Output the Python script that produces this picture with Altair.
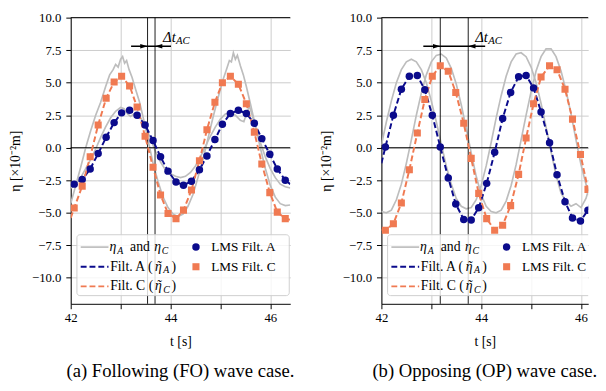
import altair as alt
import pandas as pd

FONT = "Liberation Serif"
NAVY = "#0B0B8C"
CORAL = "#F07A52"
GRAY = "#BDBDBD"

T_TICKS = [42, 43, 44, 45, 46]
ETA_TICKS = [-10, -7.5, -5, -2.5, 0, 2.5, 5, 7.5, 10]

# ---------------- (a) Following (FO) ----------------
fo_lms_t = [42.07, 42.23, 42.39, 42.55, 42.71, 42.87, 43.02, 43.18, 43.33, 43.49,
            43.65, 43.80, 43.95, 44.11, 44.26, 44.42, 44.58, 44.73, 44.89, 45.04,
            45.20, 45.36, 45.52, 45.68, 45.83, 45.99, 46.14, 46.30]
fo_lms_a = [-2.80, -2.45, -1.63, -0.45, 0.80, 1.93, 2.68, 2.88, 2.50, 1.75,
            0.55, -0.70, -1.80, -2.63, -2.88, -2.58, -1.70, -0.63, 0.63, 1.80,
            2.63, 2.88, 2.63, 1.88, 0.70, -0.50, -1.63, -2.50]
fo_lms_c = [-4.63, -2.95, -0.70, 1.75, 3.80, 5.05, 5.50, 4.75, 3.13, 0.88,
            -1.50, -3.63, -5.05, -5.45, -4.80, -3.25, -1.00, 1.38, 3.50, 5.00,
            5.50, 4.88, 3.38, 1.20, -1.25, -3.45, -4.95, -5.45]
fo_edge_t = [42.0, 46.4]
fo_edge_a = [-2.9, -2.8]
fo_edge_c = [-5.4, -5.55]
fo_raw_a_t = [42.00, 42.10, 42.20, 42.30, 42.40, 42.50, 42.60, 42.70, 42.80, 42.90,
              43.00, 43.07, 43.14, 43.20, 43.27, 43.33, 43.40, 43.50, 43.60, 43.70,
              43.80, 43.90, 44.00, 44.10, 44.20, 44.30, 44.40, 44.50, 44.60, 44.70,
              44.80, 44.90, 45.00, 45.10, 45.20, 45.30, 45.40, 45.47, 45.53, 45.58,
              45.63, 45.70, 45.80, 45.90, 46.00, 46.10, 46.20, 46.30, 46.40]
fo_raw_a = [-3.1, -2.8, -2.3, -1.6, -0.9, -0.1, 0.8, 1.6, 2.3, 2.8,
            3.1, 3.0, 2.6, 2.4, 2.6, 2.7, 2.3, 1.6, 0.7, -0.3,
            -1.1, -1.7, -2.0, -2.2, -2.3, -2.2, -1.9, -1.4, -0.7, 0.1,
            0.9, 1.6, 2.2, 2.6, 2.7, 2.5, 2.1, 2.0, 2.7, 3.2,
            2.6, 1.6, 0.4, -0.7, -1.6, -2.3, -2.8, -3.0, -3.1]
fo_raw_c_t = [42.00, 42.10, 42.20, 42.30, 42.40, 42.50, 42.60, 42.70, 42.78, 42.85,
              42.90, 42.95, 43.00, 43.04, 43.08, 43.12, 43.17, 43.23, 43.30, 43.38,
              43.46, 43.55, 43.65, 43.75, 43.85, 43.95, 44.05, 44.15, 44.25, 44.35,
              44.45, 44.55, 44.65, 44.75, 44.85, 44.95, 45.05, 45.12, 45.18, 45.22,
              45.26, 45.30, 45.34, 45.40, 45.46, 45.52, 45.60, 45.70, 45.80, 45.90,
              46.00, 46.10, 46.20, 46.30, 46.40]
fo_raw_c = [-4.3, -2.9, -1.5, 0.0, 1.3, 2.5, 3.5, 4.7, 5.6, 6.0,
            6.4, 6.2, 6.8, 7.0, 6.5, 6.7, 6.0, 5.4, 4.5, 3.5,
            2.2, 0.6, -1.2, -2.6, -3.8, -4.6, -5.1, -5.3, -5.1, -4.5,
            -3.6, -2.3, -0.9, 0.7, 2.3, 3.8, 5.2, 6.0, 6.7, 6.6,
            7.3, 6.8, 7.1, 6.3, 5.6, 4.7, 3.4, 1.7, 0.0, -1.6,
            -2.9, -3.8, -4.3, -4.45, -4.4]
fo_marks_t = [43.54, 43.69]
fo_arrow_t = [43.21, 44.01]
fo_label_t = [43.85, 44.11]

# ---------------- (b) Opposing (OP) ----------------
op_lms_t = [42.08, 42.24, 42.40, 42.56, 42.72, 42.87, 43.02, 43.18, 43.34, 43.49,
            43.65, 43.80, 43.95, 44.11, 44.27, 44.43, 44.59, 44.75, 44.90, 45.05,
            45.20, 45.37, 45.52, 45.68, 45.83, 45.99, 46.14, 46.30]
op_lms_a = [0.05, 2.50, 4.50, 5.50, 5.55, 4.45, 2.50, 0.05, -2.33, -4.32,
            -5.52, -5.55, -4.62, -2.74, -0.35, 2.25, 4.25, 5.45, 5.55, 4.60,
            2.75, 0.38, -2.08, -4.15, -5.40, -5.63, -4.80, -2.90]
op_lms_c = [-6.34, -5.84, -4.25, -1.70, 1.13, 3.70, 5.50, 6.30, 5.88, 4.25,
            1.88, -0.82, -3.51, -5.45, -6.34, -5.96, -4.45, -2.05, 0.75, 3.38,
            5.43, 6.30, 6.00, 4.50, 2.20, -0.52, -3.20, -5.28]
op_edge_t = [42.0, 46.4]
op_edge_a = [-1.2, -1.6]
op_edge_c = [-6.3, -6.0]
op_raw_a_t = [42.0, 42.1, 42.2, 42.3, 42.4, 42.5, 42.6, 42.7, 42.8, 42.9,
              43.0, 43.1, 43.2, 43.3, 43.4, 43.5, 43.6, 43.7, 43.8, 43.9,
              44.0, 44.1, 44.2, 44.3, 44.4, 44.5, 44.6, 44.7, 44.8, 44.9,
              45.0, 45.1, 45.2, 45.3, 45.4, 45.5, 45.6, 45.7, 45.8, 45.9,
              46.0, 46.1, 46.2, 46.3, 46.4]
op_raw_a = [0.2, 2.0, 3.6, 5.0, 6.0, 6.6, 6.8, 6.6, 6.0, 5.0,
            3.6, 2.0, 0.3, -1.4, -2.8, -3.9, -4.5, -4.7, -4.6, -4.0,
            -2.9, -1.4, 0.4, 2.3, 4.0, 5.5, 6.6, 7.2, 7.3, 7.0,
            6.2, 5.0, 3.4, 1.6, -0.3, -2.1, -3.5, -4.1, -4.5, -4.3,
            -4.6, -3.9, -2.6, -1.0, 0.6]
op_raw_c_t = [42.0, 42.1, 42.2, 42.3, 42.4, 42.5, 42.6, 42.7, 42.8, 42.9,
              43.0, 43.1, 43.2, 43.3, 43.4, 43.5, 43.6, 43.7, 43.8, 43.9,
              44.0, 44.1, 44.2, 44.3, 44.4, 44.5, 44.6, 44.7, 44.8, 44.9,
              45.0, 45.1, 45.2, 45.3, 45.4, 45.5, 45.6, 45.7, 45.8, 45.9,
              46.0, 46.1, 46.2, 46.3, 46.4]
op_raw_c = [-4.9, -5.0, -4.8, -4.0, -2.8, -1.2, 0.6, 2.5, 4.2, 5.6,
            6.6, 7.1, 7.2, 6.9, 6.1, 4.9, 3.3, 1.5, -0.4, -2.2,
            -3.6, -4.5, -4.9, -5.0, -4.8, -4.1, -2.9, -1.3, 0.6, 2.5,
            4.3, 5.9, 7.0, 7.6, 7.6, 7.0, 5.9, 4.4, 2.6, 0.6,
            -1.3, -2.8, -3.9, -4.5, -4.7]
op_marks_t = [43.18, 43.74]
op_arrow_t = [42.84, 44.08]
op_label_t = [43.88, 44.14]

ARROW_ETA = 7.8
LABEL_ETA = [8.52, 8.22]

# ---------------- legend (inside the axes) ----------------
leg_box_t = [42.124, 46.38]
leg_box_eta = [-6.69, -11.37]
leg_row_eta = [-7.64, -9.15, -10.66]
leg_line_t = [42.20, 42.757]
leg_mark_t = 44.51
leg_text_t = 44.816
leg_lms_labels = ["LMS Filt. A", "LMS Filt. C"]
# label pieces: (row, t, text, style, kind)  kind: main / sub
leg_pieces = [
    (0, 42.776, "η", "italic", "main"), (0, 42.93, "A", "italic", "sub"),
    (0, 43.19, "and", "normal", "main"), (0, 43.673, "η", "italic", "main"),
    (0, 43.825, "C", "italic", "sub"),
    (1, 42.790, "Filt. A (", "normal", "main"), (1, 43.69, "ῆ", "italic", "main"),
    (1, 43.855, "A", "italic", "sub"), (1, 44.02, ")", "normal", "main"),
    (2, 42.790, "Filt. C (", "normal", "main"), (2, 43.69, "ῆ", "italic", "main"),
    (2, 43.855, "C", "italic", "sub"), (2, 44.02, ")", "normal", "main"),
]
PIECE_SHIFT = {"main": 0.0, "sub": -0.28}
PIECE_SIZE = {"main": 14, "sub": 10}

PX_PER_S = 224 / 4.4


def make_axes(t_max):
    xs = alt.Scale(domain=[42, t_max], nice=False, zero=False)
    ys = alt.Scale(domain=[-12, 10], nice=False, zero=False)
    x = alt.X("t:Q", scale=xs, axis=alt.Axis(
        values=T_TICKS, format="d", labelFlush=False, labelFont=FONT, titleFont=FONT,
        labelExpr="datum.value % 2 == 0 ? datum.label : ''", title="t [s]"))
    y = alt.Y("eta:Q", scale=ys, axis=alt.Axis(
        values=ETA_TICKS, format=".1f", labelFont=FONT, titleFont=FONT,
        title="η [×10⁻²m]"))
    return x, y


RIGHT_TRI = "M-1,-0.6L1,0L-1,0.6Z"
LEFT_TRI = "M1,-0.6L-1,0L1,0.6Z"


def panel(lms_t, lms_a, lms_c, edge_t, edge_a, edge_c, raw_a_t, raw_a,
          raw_c_t, raw_c, marks_t, arrow_t, label_t, caption, width):
    t_max = 42 + width / PX_PER_S
    X, Y = make_axes(t_max)
    raw = pd.concat([
        pd.DataFrame({"t": raw_a_t, "eta": raw_a, "s": "A"}),
        pd.DataFrame({"t": raw_c_t, "eta": raw_c, "s": "C"}),
    ])
    fa = pd.DataFrame({"t": [edge_t[0]] + lms_t + [edge_t[1]],
                       "eta": [edge_a[0]] + lms_a + [edge_a[1]]})
    fc = pd.DataFrame({"t": [edge_t[0]] + lms_t + [edge_t[1]],
                       "eta": [edge_c[0]] + lms_c + [edge_c[1]]})
    pa = pd.DataFrame({"t": lms_t, "eta": lms_a})
    pc = pd.DataFrame({"t": lms_t, "eta": lms_c})

    l_raw = alt.Chart(raw).mark_line(color=GRAY, strokeWidth=1.7, clip=True).encode(
        x=X, y=Y, detail="s:N")
    l_zero = alt.Chart(pd.DataFrame({"eta": [0]})).mark_rule(
        color="black", strokeWidth=1).encode(y=Y)
    l_top = alt.Chart(pd.DataFrame({"eta": [10]})).mark_rule(
        color="black", strokeWidth=1).encode(y=Y)
    l_vl = alt.Chart(pd.DataFrame({"t": marks_t})).mark_rule(
        color="black", strokeWidth=0.9).encode(x=X)
    l_fa = alt.Chart(fa).mark_line(color=NAVY, strokeWidth=2, strokeDash=[6, 3], clip=True).encode(x=X, y=Y)
    l_fc = alt.Chart(fc).mark_line(color=CORAL, strokeWidth=2, strokeDash=[6, 3], clip=True).encode(x=X, y=Y)
    l_pa = alt.Chart(pa).mark_point(shape="circle", filled=True, size=58,
                                    color=NAVY, opacity=1, clip=True).encode(x=X, y=Y)
    l_pc = alt.Chart(pc).mark_point(shape="square", filled=True, size=52,
                                    color=CORAL, opacity=1, clip=True).encode(x=X, y=Y)

    l_arrow = alt.Chart(pd.DataFrame({"t": [arrow_t[0]], "t2": [arrow_t[1]],
                                      "eta": [ARROW_ETA]})).mark_rule(
        color="black", strokeWidth=1.4).encode(x=X, x2="t2:Q", y=Y)
    l_head_r = alt.Chart(pd.DataFrame({"t": [marks_t[0]], "eta": [ARROW_ETA]})).mark_point(
        shape=RIGHT_TRI, filled=True, color="black", size=56, opacity=1, xOffset=-3.7).encode(x=X, y=Y)
    l_head_l = alt.Chart(pd.DataFrame({"t": [marks_t[1]], "eta": [ARROW_ETA]})).mark_point(
        shape=LEFT_TRI, filled=True, color="black", size=56, opacity=1, xOffset=3.7).encode(x=X, y=Y)
    l_dt = alt.Chart(pd.DataFrame({"t": [label_t[0]], "eta": [LABEL_ETA[0]], "txt": ["Δt"]})).mark_text(
        align="left", baseline="middle", font=FONT, fontSize=15, fontStyle="italic",
        color="black").encode(x=X, y=Y, text="txt:N")
    l_dt_sub = alt.Chart(pd.DataFrame({"t": [label_t[1]], "eta": [LABEL_ETA[1]], "txt": ["AC"]})).mark_text(
        align="left", baseline="middle", font=FONT, fontSize=11, fontStyle="italic",
        color="black").encode(x=X, y=Y, text="txt:N")

    # legend
    box_right = min(leg_box_t[1], t_max + 0.2)
    l_box = alt.Chart(pd.DataFrame({"t": [leg_box_t[0]], "t2": [box_right],
                                    "eta": [leg_box_eta[0]], "eta2": [leg_box_eta[1]]})).mark_rect(
        fill="white", fillOpacity=0.82, stroke="#CFCFCF", strokeWidth=1, cornerRadius=3,
        clip=True).encode(x=X, x2="t2:Q", y=Y, y2="eta2:Q")
    legl = pd.DataFrame({"t": [leg_line_t[0]] * 3, "t2": [leg_line_t[1]] * 3,
                         "eta": leg_row_eta, "k": ["raw", "fa", "fc"]})
    l_leg_raw = alt.Chart(legl[legl.k == "raw"]).mark_rule(color=GRAY, strokeWidth=1.7).encode(
        x=X, x2="t2:Q", y=Y)
    l_leg_fa = alt.Chart(legl[legl.k == "fa"]).mark_rule(color=NAVY, strokeWidth=2, strokeDash=[6, 3]).encode(
        x=X, x2="t2:Q", y=Y)
    l_leg_fc = alt.Chart(legl[legl.k == "fc"]).mark_rule(color=CORAL, strokeWidth=2, strokeDash=[6, 3]).encode(
        x=X, x2="t2:Q", y=Y)
    l_leg_pa = alt.Chart(pd.DataFrame({"t": [leg_mark_t], "eta": [leg_row_eta[0]]})).mark_point(
        shape="circle", filled=True, size=58, color=NAVY, opacity=1).encode(x=X, y=Y)
    l_leg_pc = alt.Chart(pd.DataFrame({"t": [leg_mark_t], "eta": [leg_row_eta[1]]})).mark_point(
        shape="square", filled=True, size=52, color=CORAL, opacity=1).encode(x=X, y=Y)
    l_leg_lms = alt.Chart(pd.DataFrame({"t": [leg_text_t] * 2, "eta": leg_row_eta[:2],
                                        "txt": leg_lms_labels})).mark_text(
        align="left", baseline="middle", font=FONT, fontSize=13.5, color="black").encode(
        x=X, y=Y, text="txt:N")
    pieces = pd.DataFrame([
        {"t": t, "eta": leg_row_eta[r] + PIECE_SHIFT[kind], "txt": txt,
         "sz": PIECE_SIZE[kind], "st": st}
        for (r, t, txt, st, kind) in leg_pieces
    ])
    l_pn = alt.Chart(pieces[pieces.st == "normal"]).mark_text(
        align="left", baseline="middle", font=FONT, color="black").encode(
        x=X, y=Y, text="txt:N", size=alt.Size("sz:Q", scale=None))
    l_pi = alt.Chart(pieces[pieces.st == "italic"]).mark_text(
        align="left", baseline="middle", font=FONT, fontStyle="italic", color="black").encode(
        x=X, y=Y, text="txt:N", size=alt.Size("sz:Q", scale=None))

    return alt.layer(
        l_raw, l_zero, l_top, l_vl, l_fa, l_fc, l_pa, l_pc,
        l_arrow, l_head_r, l_head_l, l_dt, l_dt_sub,
        l_box, l_leg_raw, l_leg_fa, l_leg_fc, l_leg_pa, l_leg_pc, l_leg_lms, l_pn, l_pi,
    ).properties(
        width=width, height=292,
        title=alt.TitleParams(caption, orient="bottom", anchor="middle", font=FONT,
                              fontSize=19, fontWeight="normal", color="black", offset=14),
    )


left = panel(fo_lms_t, fo_lms_a, fo_lms_c, fo_edge_t, fo_edge_a, fo_edge_c,
             fo_raw_a_t, fo_raw_a, fo_raw_c_t, fo_raw_c, fo_marks_t, fo_arrow_t,
             fo_label_t, "(a) Following (FO) wave case.", 224)
# right panel: the reference is cut off by the page edge
right = panel(op_lms_t, op_lms_a, op_lms_c, op_edge_t, op_edge_a, op_edge_c,
              op_raw_a_t, op_raw_a, op_raw_c_t, op_raw_c, op_marks_t, op_arrow_t,
              op_label_t, "(b) Opposing (OP) wave case.", 211)

chart = alt.hconcat(left, right, spacing=24, padding=0).configure(font=FONT).configure_axis(
    labelFont=FONT, titleFont=FONT, labelFontSize=13, titleFontSize=14,
    labelColor="black", titleColor="black", titleFontWeight="normal",
    gridColor="#CCCCCC", gridWidth=1, domainColor="black", tickColor="black",
    tickSize=5, labelPadding=3,
).configure_axisX(titlePadding=11).configure_axisY(labelPadding=5, titlePadding=9).configure_view(
    stroke=None)

chart.save("out.html", embed_options={"renderer": "svg", "actions": False})
